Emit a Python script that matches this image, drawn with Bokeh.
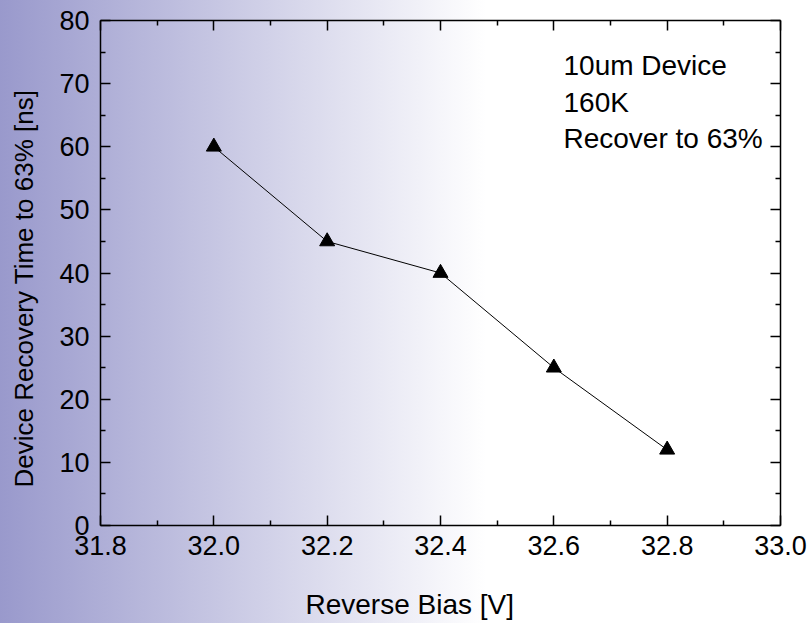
from bokeh.plotting import figure
from bokeh.models import (FixedTicker, LinearAxis, Range1d, Label, Title,
                          CustomLabelingPolicy)
from bokeh.embed import file_html
from bokeh.resources import INLINE

# Recovery time measurements versus reverse bias
bias_v = [32.0, 32.2, 32.4, 32.6, 32.8]
recovery_ns = [60, 45, 40, 25, 12]

x_ticks = [31.8, 32.0, 32.2, 32.4, 32.6, 32.8, 33.0]
x_minor = [31.9, 32.1, 32.3, 32.5, 32.7, 32.9]
x_labels = ["31.8", "32.0", "32.2", "32.4", "32.6", "32.8", "33.0"]
y_ticks = [0, 10, 20, 30, 40, 50, 60, 70, 80]
y_minor = [5, 15, 25, 35, 45, 55, 65, 75]

note_lines = ["10um Device", "160K", "Recover to 63%"]
x_title = "Reverse Bias [V]"
y_title = "Device Recovery Time to 63% [ns]"

FONT = "Liberation Sans"

p = figure(width=810, height=623,
           x_range=Range1d(31.8, 33.0), y_range=Range1d(0, 80),
           output_backend="svg", toolbar_location=None,
           min_border_left=100, min_border_right=30,
           min_border_top=20, min_border_bottom=98)

p.grid.visible = False
p.border_fill_color = None
p.background_fill_color = None
p.outline_line_color = None
p.styles = {"background": "linear-gradient(to right, #9999cc 0%, #ffffff 60%)"}

# mirrored axes on the top and right carry ticks only
hide_all = CustomLabelingPolicy(code="for (const i of [...indices]) indices.unset(i); return indices")
top_axis = LinearAxis(major_label_policy=hide_all)
right_axis = LinearAxis(major_label_policy=hide_all)
p.add_layout(top_axis, "above")
p.add_layout(right_axis, "right")


def style_axis(ax, ticks, minor):
    ax.ticker = FixedTicker(ticks=ticks, minor_ticks=minor)
    ax.axis_line_color = "black"
    ax.axis_line_width = 1.5
    ax.major_tick_line_color = "black"
    ax.minor_tick_line_color = "black"
    ax.major_tick_line_width = 1.5
    ax.minor_tick_line_width = 1.5
    ax.major_tick_in = 10
    ax.major_tick_out = 0
    ax.minor_tick_in = 5
    ax.minor_tick_out = 0
    ax.major_label_text_font = FONT
    ax.major_label_text_font_size = "27px"
    ax.major_label_text_color = "black"


for ax in p.xaxis:
    style_axis(ax, x_ticks, x_minor)
for ax in p.yaxis:
    style_axis(ax, y_ticks, y_minor)

for ax in (top_axis, right_axis):
    ax.major_label_text_font_size = "1px"
    ax.major_label_standoff = 0

p.below[0].major_label_overrides = {t: s for t, s in zip(x_ticks, x_labels)}
p.below[0].major_label_standoff = 10
p.left[0].major_label_standoff = 11

# axis titles
p.add_layout(Title(text=x_title, align="left", offset=205, standoff=0,
                   vertical_align="top",
                   padding=dict(left=0, right=0, top=31, bottom=0),
                   text_font=FONT, text_font_size="28px",
                   text_font_style="normal", text_color="black"), "below")
p.add_layout(Title(text=y_title, align="left", offset=38, standoff=0,
                   vertical_align="bottom",
                   padding=dict(left=0, right=0, top=0, bottom=18),
                   text_font=FONT, text_font_size="26px",
                   text_font_style="normal", text_color="black"), "left")

# data
p.line(bias_v, recovery_ns, line_color="black", line_width=1)
p.scatter(bias_v, recovery_ns, marker="triangle", size=15,
          fill_color="black", line_color="black")

# annotation block in the upper right
for k, line in enumerate(note_lines):
    p.add_layout(Label(x=463, y=460 - 36.5 * k, x_units="screen", y_units="screen",
                       text=line, text_font=FONT, text_font_size="28px",
                       text_color="black", text_baseline="alphabetic",
                       text_align="left"))

open("out.html", "w").write(file_html(p, INLINE))
